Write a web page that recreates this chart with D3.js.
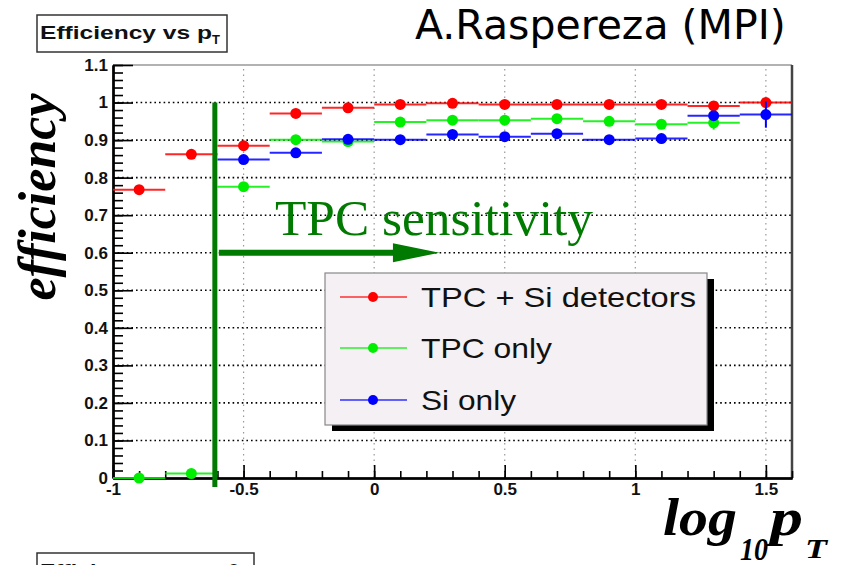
<!DOCTYPE html>
<html>
<head>
<meta charset="utf-8">
<script src="https://cdn.jsdelivr.net/npm/d3@7"></script>
<style>
  body { margin: 0; background: #fff; }
  svg { display: block; }
</style>
</head>
<body>
<div id="chart"></div>
<script>
// bins in log10(pT), width 0.2
const binCenters = [-0.9, -0.7, -0.5, -0.3, -0.1, 0.1, 0.3, 0.5, 0.7, 0.9, 1.1, 1.3, 1.5];
const binHalfWidth = 0.1;

const tpcSi   = [0.768, 0.862, 0.885, 0.971, 0.986, 0.995, 0.998, 0.995, 0.995, 0.995, 0.995, 0.991, 1.0];
const tpcOnly = [0.0, 0.012, 0.776, 0.901, 0.896, 0.948, 0.953, 0.953, 0.957, 0.950, 0.942, 0.946, null];
const siOnly  = [null, null, 0.848, 0.866, 0.902, 0.901, 0.915, 0.909, 0.917, 0.901, 0.904, 0.965, 0.968];

const tpcSiErr   = [0.004, 0.004, 0.004, 0.003, 0.003, 0.002, 0.002, 0.002, 0.002, 0.002, 0.002, 0.004, 0.004];
const tpcOnlyErr = [0.002, 0.006, 0.006, 0.004, 0.004, 0.004, 0.004, 0.004, 0.006, 0.004, 0.004, 0.018, 0];
const siOnlyErr  = [0, 0, 0.006, 0.005, 0.004, 0.004, 0.006, 0.004, 0.008, 0.004, 0.004, 0.01, 0.035];

const seriesNames  = ['TPC + Si detectors', 'TPC only', 'Si only'];
const seriesColors = ['#ff0000', '#00ee00', '#0000ff'];

const xTicks = [-1, -0.5, 0, 0.5, 1, 1.5];
const yTicks = [0, 0.1, 0.2, 0.3, 0.4, 0.5, 0.6, 0.7, 0.8, 0.9, 1, 1.1];

const sensitivityCut = -0.61;   // where the TPC becomes sensitive
const arrowY = 0.6;
const arrowTip = 0.25;

const W = 848, H = 565;
const green = '#007a00';

const svg = d3.select('#chart').append('svg')
  .attr('width', W).attr('height', H)
  .style('background', '#fff');

const x = d3.scaleLinear().domain([-1, 1.6]).range([113, 792]);
const y = d3.scaleLinear().domain([0, 1.1]).range([478, 65]);

// frame
svg.append('line')
  .attr('x1', x(-1)).attr('x2', x(1.6)).attr('y1', y(1.1)).attr('y2', y(1.1))
  .attr('stroke', '#999').attr('stroke-width', 1.5);
svg.append('line')
  .attr('x1', x(1.6)).attr('x2', x(1.6)).attr('y1', y(1.1)).attr('y2', y(0))
  .attr('stroke', '#444').attr('stroke-width', 2.5);

// grid
svg.append('g').selectAll('line')
  .data(xTicks.slice(1))
  .join('line')
    .attr('x1', d => x(d)).attr('x2', d => x(d))
    .attr('y1', y(1.1) + 4).attr('y2', y(0))
    .attr('stroke', '#999').attr('stroke-width', 1.2)
    .attr('stroke-dasharray', '1.5,4');

svg.append('g').selectAll('line')
  .data(yTicks.filter(d => d > 0 && d < 1.05))
  .join('line')
    .attr('x1', x(-1)).attr('x2', x(1.6))
    .attr('y1', d => y(d)).attr('y2', d => y(d))
    .attr('stroke', '#000').attr('stroke-width', 1.6)
    .attr('stroke-dasharray', '1.6,3');

// axes
const fmt = d => d === 0 ? '0' : String(+d.toFixed(1));

const yAxis = svg.append('g')
  .attr('transform', `translate(${x(-1)},0)`)
  .call(d3.axisRight(y).tickValues(d3.range(0, 1.101, 0.02)).tickSize(10).tickSizeOuter(0).tickFormat(''));
yAxis.append('g')
  .call(d3.axisRight(y).tickValues(yTicks).tickSize(20).tickSizeOuter(0).tickFormat(''));
yAxis.append('g')
  .call(d3.axisLeft(y).tickValues(yTicks).tickSize(0).tickPadding(5).tickFormat(fmt));
yAxis.selectAll('.domain').attr('stroke', '#000').attr('stroke-width', 2);
yAxis.selectAll('.tick line').attr('stroke', '#000').attr('stroke-width', 1.6);
yAxis.selectAll('text')
  .style('font-family', '"Liberation Sans", Arial, sans-serif')
  .style('font-weight', 'bold').style('font-size', '17px').attr('fill', '#111');

const xAxis = svg.append('g')
  .attr('transform', `translate(0,${y(0)})`)
  .call(d3.axisTop(x).tickValues(d3.range(-1, 1.601, 0.1)).tickSize(7).tickSizeOuter(0).tickFormat(''));
xAxis.append('g')
  .call(d3.axisTop(x).tickValues(xTicks).tickSize(13).tickSizeOuter(0).tickFormat(''));
xAxis.append('g')
  .call(d3.axisBottom(x).tickValues(xTicks).tickSize(0).tickPadding(5).tickFormat(fmt));
xAxis.selectAll('.domain').attr('stroke', '#000').attr('stroke-width', 2);
xAxis.selectAll('.tick line').attr('stroke', '#000').attr('stroke-width', 1.6);
xAxis.selectAll('text')
  .style('font-family', '"Liberation Sans", Arial, sans-serif')
  .style('font-weight', 'bold').style('font-size', '17px').attr('fill', '#111');

// data: error bars + markers
const series = [
  { vals: tpcSi, errs: tpcSiErr, color: seriesColors[0] },
  { vals: tpcOnly, errs: tpcOnlyErr, color: seriesColors[1] },
  { vals: siOnly, errs: siOnlyErr, color: seriesColors[2] }
];

series.forEach(s => {
  const pts = binCenters.map((c, i) => ({ c, v: s.vals[i], e: s.errs[i] })).filter(p => p.v !== null);
  const g = svg.append('g');
  g.selectAll('line.h').data(pts).join('line')
    .attr('class', 'h')
    .attr('x1', p => x(p.c - binHalfWidth)).attr('x2', p => x(p.c + binHalfWidth))
    .attr('y1', p => y(p.v)).attr('y2', p => y(p.v))
    .attr('stroke', s.color).attr('stroke-width', 2).attr('stroke-opacity', 0.85);
  g.selectAll('line.v').data(pts.filter(p => p.e > 0)).join('line')
    .attr('class', 'v')
    .attr('x1', p => x(p.c)).attr('x2', p => x(p.c))
    .attr('y1', p => y(p.v - p.e)).attr('y2', p => y(p.v + p.e))
    .attr('stroke', s.color).attr('stroke-width', 2);
  g.selectAll('circle').data(pts).join('circle')
    .attr('cx', p => x(p.c)).attr('cy', p => y(p.v))
    .attr('r', 5.5).attr('fill', s.color);
});

// TPC sensitivity line + arrow
svg.append('line')
  .attr('x1', x(sensitivityCut)).attr('x2', x(sensitivityCut))
  .attr('y1', y(1.0)).attr('y2', y(0) + 9)
  .attr('stroke', green).attr('stroke-width', 5);

const headBase = x(0.072);
svg.append('line')
  .attr('x1', x(sensitivityCut) + 4).attr('x2', headBase + 2)
  .attr('y1', y(arrowY)).attr('y2', y(arrowY))
  .attr('stroke', green).attr('stroke-width', 6);
svg.append('path')
  .attr('d', `M${headBase},${y(arrowY) - 9.5}L${x(arrowTip)},${y(arrowY)}L${headBase},${y(arrowY) + 9.5}Z`)
  .attr('fill', green);

svg.append('text')
  .attr('x', 275).attr('y', 235)
  .attr('textLength', 318).attr('lengthAdjust', 'spacingAndGlyphs')
  .style('font-family', '"Liberation Serif", "Times New Roman", serif')
  .style('font-size', '51px').attr('fill', green)
  .text('TPC sensitivity');

// legend
const legend = svg.append('g');
legend.append('rect')
  .attr('x', 332).attr('y', 279).attr('width', 382).attr('height', 152)
  .attr('fill', '#000');
legend.append('rect')
  .attr('x', 325).attr('y', 273).attr('width', 382).attr('height', 152)
  .attr('fill', '#f4f0f4').attr('stroke', '#888').attr('stroke-width', 1.2);

const legendRows = [297, 348, 400];
const legendLens = [275, 131, 95];
seriesNames.forEach((name, i) => {
  const ry = legendRows[i];
  legend.append('line')
    .attr('x1', 340).attr('x2', 407).attr('y1', ry).attr('y2', ry)
    .attr('stroke', seriesColors[i]).attr('stroke-width', 1.5).attr('stroke-opacity', 0.8);
  legend.append('circle')
    .attr('cx', 373).attr('cy', ry).attr('r', 5).attr('fill', seriesColors[i]);
  legend.append('text')
    .attr('x', 421).attr('y', ry + 10)
    .attr('textLength', legendLens[i]).attr('lengthAdjust', 'spacingAndGlyphs')
    .style('font-family', '"Liberation Sans", Arial, sans-serif')
    .style('font-size', '28px').attr('fill', '#111')
    .text(name);
});

// axis titles
svg.append('text')
  .attr('transform', 'translate(55,197) rotate(-90)')
  .attr('text-anchor', 'middle')
  .attr('textLength', 207).attr('lengthAdjust', 'spacingAndGlyphs')
  .style('font-family', '"Liberation Serif", "Times New Roman", serif')
  .style('font-size', '52px').style('font-weight', 'bold').style('font-style', 'italic')
  .text('efficiency');

const xt = [
  { t: 'log', x: 663, y: 535, s: 52, l: 74 },
  { t: '10', x: 740, y: 560, s: 32, l: 28 },
  { t: 'p', x: 770, y: 535, s: 52, l: 33 },
  { t: 'T', x: 805, y: 558, s: 28, l: 22 }
];
svg.append('g').selectAll('text').data(xt).join('text')
  .attr('x', d => d.x).attr('y', d => d.y)
  .attr('textLength', d => d.l).attr('lengthAdjust', 'spacingAndGlyphs')
  .style('font-family', '"Liberation Serif", "Times New Roman", serif')
  .style('font-size', d => d.s + 'px').style('font-weight', 'bold').style('font-style', 'italic')
  .text(d => d.t);

// title box
svg.append('rect')
  .attr('x', 37).attr('y', 15).attr('width', 190).attr('height', 37)
  .attr('fill', '#fff').attr('stroke', '#333').attr('stroke-width', 1.5);
const title = svg.append('text')
  .attr('x', 40).attr('y', 39)
  .style('font-family', '"Liberation Sans", Arial, sans-serif')
  .style('font-weight', 'bold').style('font-size', '19px').attr('fill', '#111');
title.append('tspan').attr('textLength', 172).attr('lengthAdjust', 'spacingAndGlyphs').text('Efficiency vs p');
title.append('tspan').attr('dy', 5).style('font-size', '13px').text('T');

// next pad title, cut off by the page edge
svg.append('rect')
  .attr('x', 37).attr('y', 553).attr('width', 217).attr('height', 30)
  .attr('fill', '#fff').attr('stroke', '#333').attr('stroke-width', 1.5);
svg.append('text')
  .attr('x', 40).attr('y', 577)
  .attr('textLength', 200).attr('lengthAdjust', 'spacingAndGlyphs')
  .style('font-family', '"Liberation Sans", Arial, sans-serif')
  .style('font-weight', 'bold').style('font-size', '19px').attr('fill', '#111')
  .text('Efficiency vs cos\u03b8');

// author
svg.append('text')
  .attr('x', 415).attr('y', 39)
  .style('font-family', '"DejaVu Sans", sans-serif')
  .style('font-size', '41px').attr('fill', '#000')
  .text('A.Raspereza (MPI)');
</script>
</body>
</html>
